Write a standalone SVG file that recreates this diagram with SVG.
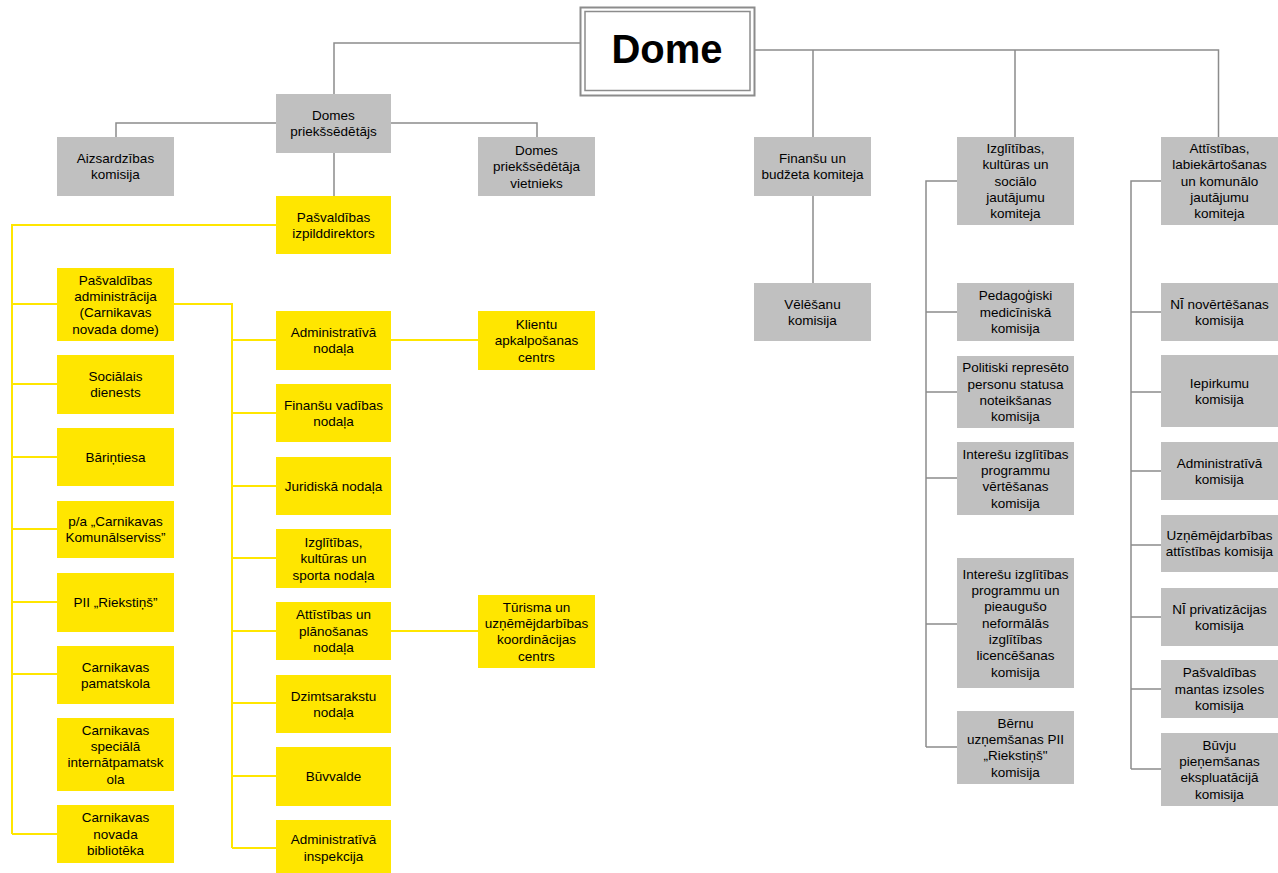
<svg xmlns="http://www.w3.org/2000/svg" width="1278" height="873" viewBox="0 0 1278 873">
<style>
.g{fill:#C0C0C0}
.y{fill:#FFE600}
.t{font-family:"Liberation Sans",Arial,sans-serif;font-size:13.5px;text-anchor:middle;fill:#000}
.cg{stroke:#8C8C8C;stroke-width:1.5;fill:none}
.cy{stroke:#FFE600;stroke-width:2;fill:none}
</style>
<rect width="1278" height="873" fill="#fff"/>
<g id="connectors">
<path class="cg" d="M580,43H334V94M755,50H1218.5V137M813,50V137M1015,50V137M116,137V123H537V137M334,153V196M813,196V283"/>
<path class="cg" d="M957,181H926V747M926,312H957M926,392H957M926,478H957M926,624H957M926,747H957"/>
<path class="cg" d="M1161,181H1131V769M1131,312H1161M1131,392H1161M1131,471H1161M1131,545H1161M1131,617H1161M1131,689H1161M1131,769H1161"/>
<path class="cy" d="M276,225H12V834M12,304H57M12,384H57M12,457H57M12,529H57M12,602H57M12,674H57M12,834H57"/>
<path class="cy" d="M174,304H232V848M232,340H276M232,413H276M232,486H276M232,558H276M232,631H276M232,703H276M232,776H276M232,848H276M391,340H478M391,631H478"/>
</g>
<g id="dome">
<rect x="580.5" y="7.5" width="174" height="88" fill="#fff" stroke="#8C8C8C" stroke-width="2"/>
<rect x="585" y="11.5" width="165" height="79" fill="#fff" stroke="#8C8C8C" stroke-width="1.5"/>
<text x="667" y="63" style="font-family:'Liberation Sans',Arial,sans-serif;font-size:40px;font-weight:bold;text-anchor:middle">Dome</text>
</g>
<g id="chair"><rect class="g" x="276" y="94" width="115" height="59"/><text class="t"><tspan x="333.5" y="120">Domes</tspan><tspan x="333.5" y="136.3">priekšsēdētājs</tspan></text></g>
<g id="aizs"><rect class="g" x="57" y="137" width="117" height="59"/><text class="t"><tspan x="115.5" y="163">Aizsardzības</tspan><tspan x="115.5" y="179.3">komisija</tspan></text></g>
<g id="vice"><rect class="g" x="478" y="137" width="117" height="59"/><text class="t"><tspan x="536.5" y="155.1">Domes</tspan><tspan x="536.5" y="171.4">priekšsēdētāja</tspan><tspan x="536.5" y="187.7">vietnieks</tspan></text></g>
<g id="fin"><rect class="g" x="754" y="137" width="117" height="59"/><text class="t"><tspan x="812.5" y="163">Finanšu un</tspan><tspan x="812.5" y="179.3">budžeta komiteja</tspan></text></g>
<g id="izgl"><rect class="g" x="957" y="137" width="117" height="88"/><text class="t"><tspan x="1015.5" y="153.1">Izglītības,</tspan><tspan x="1015.5" y="169.4">kultūras un</tspan><tspan x="1015.5" y="185.7">sociālo</tspan><tspan x="1015.5" y="202">jautājumu</tspan><tspan x="1015.5" y="218.3">komiteja</tspan></text></g>
<g id="att"><rect class="g" x="1161" y="137" width="117" height="88"/><text class="t"><tspan x="1219.5" y="153.1">Attīstības,</tspan><tspan x="1219.5" y="169.4">labiekārtošanas</tspan><tspan x="1219.5" y="185.7">un komunālo</tspan><tspan x="1219.5" y="202">jautājumu</tspan><tspan x="1219.5" y="218.3">komiteja</tspan></text></g>
<g id="vel"><rect class="g" x="754" y="283" width="117" height="58"/><text class="t"><tspan x="812.5" y="308.5">Vēlēšanu</tspan><tspan x="812.5" y="324.8">komisija</tspan></text></g>
<g id="ped"><rect class="g" x="957" y="283" width="117" height="58"/><text class="t"><tspan x="1015.5" y="300.4">Pedagoģiski</tspan><tspan x="1015.5" y="316.7">medicīniskā</tspan><tspan x="1015.5" y="333">komisija</tspan></text></g>
<g id="pol"><rect class="g" x="957" y="356" width="117" height="72"/><text class="t"><tspan x="1015.5" y="372.3">Politiski represēto</tspan><tspan x="1015.5" y="388.6">personu statusa</tspan><tspan x="1015.5" y="404.9">noteikšanas</tspan><tspan x="1015.5" y="421.2">komisija</tspan></text></g>
<g id="intv"><rect class="g" x="957" y="442" width="117" height="73"/><text class="t"><tspan x="1015.5" y="458.8">Interešu izglītības</tspan><tspan x="1015.5" y="475.1">programmu</tspan><tspan x="1015.5" y="491.4">vērtēšanas</tspan><tspan x="1015.5" y="507.7">komisija</tspan></text></g>
<g id="intl"><rect class="g" x="957" y="558" width="117" height="130"/><text class="t"><tspan x="1015.5" y="578.8">Interešu izglītības</tspan><tspan x="1015.5" y="595.1">programmu un</tspan><tspan x="1015.5" y="611.4">pieaugušo</tspan><tspan x="1015.5" y="627.7">neformālās</tspan><tspan x="1015.5" y="644">izglītības</tspan><tspan x="1015.5" y="660.3">licencēšanas</tspan><tspan x="1015.5" y="676.6">komisija</tspan></text></g>
<g id="bernu"><rect class="g" x="957" y="711" width="117" height="73"/><text class="t"><tspan x="1015.5" y="727.8">Bērnu</tspan><tspan x="1015.5" y="744.1">uzņemšanas PII</tspan><tspan x="1015.5" y="760.4">„Riekstiņš"</tspan><tspan x="1015.5" y="776.7">komisija</tspan></text></g>
<g id="nin"><rect class="g" x="1161" y="283" width="117" height="58"/><text class="t"><tspan x="1219.5" y="308.5">NĪ novērtēšanas</tspan><tspan x="1219.5" y="324.8">komisija</tspan></text></g>
<g id="iep"><rect class="g" x="1161" y="355" width="117" height="72"/><text class="t"><tspan x="1219.5" y="387.5">Iepirkumu</tspan><tspan x="1219.5" y="403.8">komisija</tspan></text></g>
<g id="admk"><rect class="g" x="1161" y="442" width="117" height="58"/><text class="t"><tspan x="1219.5" y="467.5">Administratīvā</tspan><tspan x="1219.5" y="483.8">komisija</tspan></text></g>
<g id="uzn"><rect class="g" x="1161" y="515" width="117" height="57"/><text class="t"><tspan x="1219.5" y="540">Uzņēmējdarbības</tspan><tspan x="1219.5" y="556.3">attīstības komisija</tspan></text></g>
<g id="nip"><rect class="g" x="1161" y="588" width="117" height="58"/><text class="t"><tspan x="1219.5" y="613.5">NĪ privatizācijas</tspan><tspan x="1219.5" y="629.8">komisija</tspan></text></g>
<g id="mant"><rect class="g" x="1161" y="660" width="117" height="58"/><text class="t"><tspan x="1219.5" y="677.4">Pašvaldības</tspan><tspan x="1219.5" y="693.7">mantas izsoles</tspan><tspan x="1219.5" y="710">komisija</tspan></text></g>
<g id="buvju"><rect class="g" x="1161" y="733" width="117" height="73"/><text class="t"><tspan x="1219.5" y="749.8">Būvju</tspan><tspan x="1219.5" y="766.1">pieņemšanas</tspan><tspan x="1219.5" y="782.4">ekspluatācijā</tspan><tspan x="1219.5" y="798.7">komisija</tspan></text></g>
<g id="izp"><rect class="y" x="276" y="196" width="115" height="58"/><text class="t"><tspan x="333.5" y="221.5">Pašvaldības</tspan><tspan x="333.5" y="237.8">izpilddirektors</tspan></text></g>
<g id="padm"><rect class="y" x="57" y="268" width="117" height="73"/><text class="t"><tspan x="115.5" y="284.8">Pašvaldības</tspan><tspan x="115.5" y="301.1">administrācija</tspan><tspan x="115.5" y="317.4">(Carnikavas</tspan><tspan x="115.5" y="333.7">novada dome)</tspan></text></g>
<g id="soc"><rect class="y" x="57" y="355" width="117" height="59"/><text class="t"><tspan x="115.5" y="381">Sociālais</tspan><tspan x="115.5" y="397.3">dienests</tspan></text></g>
<g id="bar"><rect class="y" x="57" y="428" width="117" height="58"/><text class="t" x="115.5" y="461.7">Bāriņtiesa</text></g>
<g id="pa"><rect class="y" x="57" y="501" width="117" height="57"/><text class="t"><tspan x="115.5" y="526">p/a „Carnikavas</tspan><tspan x="115.5" y="542.3">Komunālserviss”</tspan></text></g>
<g id="pii"><rect class="y" x="57" y="573" width="117" height="59"/><text class="t" x="115.5" y="607.2">PII „Riekstiņš”</text></g>
<g id="pam"><rect class="y" x="57" y="646" width="117" height="58"/><text class="t"><tspan x="115.5" y="671.5">Carnikavas</tspan><tspan x="115.5" y="687.8">pamatskola</tspan></text></g>
<g id="spec"><rect class="y" x="57" y="718" width="117" height="73"/><text class="t"><tspan x="115.5" y="734.8">Carnikavas</tspan><tspan x="115.5" y="751.1">speciālā</tspan><tspan x="115.5" y="767.4">internātpamatsk</tspan><tspan x="115.5" y="783.7">ola</tspan></text></g>
<g id="bibl"><rect class="y" x="57" y="805" width="117" height="58"/><text class="t"><tspan x="115.5" y="822.4">Carnikavas</tspan><tspan x="115.5" y="838.7">novada</tspan><tspan x="115.5" y="855">bibliotēka</tspan></text></g>
<g id="admn"><rect class="y" x="276" y="311" width="115" height="59"/><text class="t"><tspan x="333.5" y="337">Administratīvā</tspan><tspan x="333.5" y="353.3">nodaļa</tspan></text></g>
<g id="finv"><rect class="y" x="276" y="384" width="115" height="58"/><text class="t"><tspan x="333.5" y="409.5">Finanšu vadības</tspan><tspan x="333.5" y="425.8">nodaļa</tspan></text></g>
<g id="jur"><rect class="y" x="276" y="457" width="115" height="58"/><text class="t" x="333.5" y="490.7">Juridiskā nodaļa</text></g>
<g id="izks"><rect class="y" x="276" y="529" width="115" height="59"/><text class="t"><tspan x="333.5" y="546.9">Izglītības,</tspan><tspan x="333.5" y="563.2">kultūras un</tspan><tspan x="333.5" y="579.5">sporta nodaļa</tspan></text></g>
<g id="attp"><rect class="y" x="276" y="602" width="115" height="58"/><text class="t"><tspan x="333.5" y="619.4">Attīstības un</tspan><tspan x="333.5" y="635.7">plānošanas</tspan><tspan x="333.5" y="652">nodaļa</tspan></text></g>
<g id="dzim"><rect class="y" x="276" y="675" width="115" height="58"/><text class="t"><tspan x="333.5" y="700.5">Dzimtsarakstu</tspan><tspan x="333.5" y="716.8">nodaļa</tspan></text></g>
<g id="buv"><rect class="y" x="276" y="747" width="115" height="59"/><text class="t" x="333.5" y="781.2">Būvvalde</text></g>
<g id="admi"><rect class="y" x="276" y="820" width="115" height="53"/><text class="t"><tspan x="333.5" y="843.5">Administratīvā</tspan><tspan x="333.5" y="860.5">inspekcija</tspan></text></g>
<g id="klient"><rect class="y" x="478" y="311" width="117" height="59"/><text class="t"><tspan x="536.5" y="328.9">Klientu</tspan><tspan x="536.5" y="345.2">apkalpošanas</tspan><tspan x="536.5" y="361.5">centrs</tspan></text></g>
<g id="tur"><rect class="y" x="478" y="595" width="117" height="73"/><text class="t"><tspan x="536.5" y="611.8">Tūrisma un</tspan><tspan x="536.5" y="628.1">uzņēmējdarbības</tspan><tspan x="536.5" y="644.4">koordinācijas</tspan><tspan x="536.5" y="660.7">centrs</tspan></text></g>
</svg>
